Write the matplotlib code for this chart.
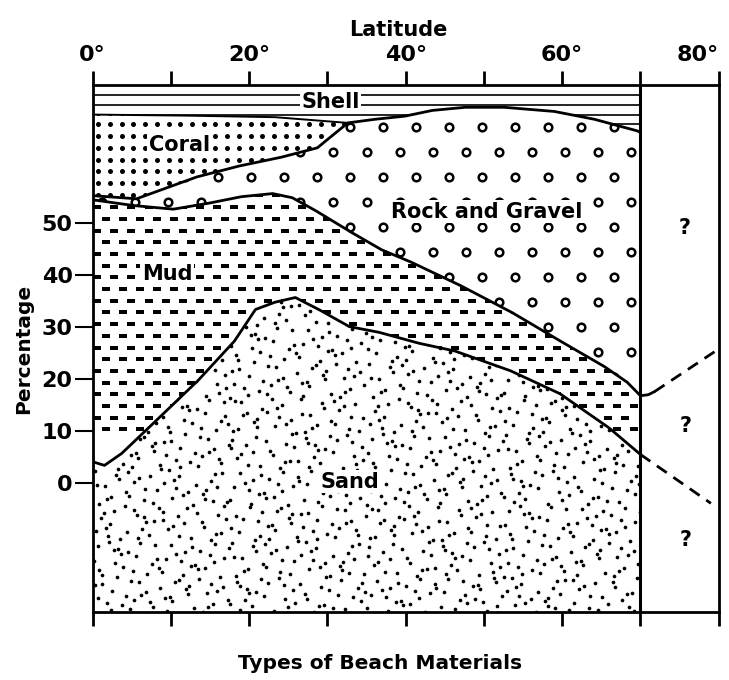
import numpy as np
import matplotlib
matplotlib.use("Agg")
import matplotlib.pyplot as plt
from matplotlib.patches import Polygon

plt.rcParams['font.family'] = ['DejaVu Sans']
plt.rcParams['font.weight'] = 'bold'

# ---------------- data (latitude in degrees, percentage) ----------------
lat_major = [0, 20, 40, 60, 80]
lat_major_labels = ['0°', '20°', '40°', '60°', '80°']
lat_minor = [10, 30, 50, 70]
pct_ticks = [0, 10, 20, 30, 40, 50]
pct_range = [-25.0, 76.4]
lat_range = [0, 80]
lat_known = 70

# upper boundary of Sand
sand_lat = [0, 1.5, 3.7, 8.3, 13.5, 18.1, 20.8, 23.3, 25.9, 29.0, 32.8, 36.6,
            41.7, 46.3, 53.4, 59.7, 66.0, 70.0]
sand_pct = [4.0, 3.3, 5.6, 12.2, 19.7, 27.2, 33.3, 34.7, 35.6, 33.2, 30.0, 28.9,
            26.8, 25.3, 21.5, 17.1, 10.5, 5.4]
sand_ext_lat = [70.0, 79.0]
sand_ext_pct = [5.4, -4.0]

# upper boundary of Mud
mud_lat = [0, 5.2, 10.3, 15.0, 19.0, 23.0, 25.5, 28.5, 33.1, 36.9, 40.7, 47.0,
           53.6, 59.9, 65.4, 68.3, 70.0]
mud_pct = [54.4, 53.3, 52.6, 53.8, 55.0, 55.6, 54.8, 52.3, 48.1, 44.8, 42.4, 37.9,
           32.7, 27.1, 22.3, 19.3, 16.7]
mud_bend_lat = [70.0, 71.0, 71.8]
mud_bend_pct = [16.7, 16.9, 17.5]
mud_ext_lat = [71.8, 80.0]
mud_ext_pct = [17.5, 25.7]

# upper boundary of Rock and Gravel (coral base, then shell base)
rock_lat = [0, 5.6, 13.3, 18.7, 24.1, 28.7, 32.6, 36.1, 39.9, 43.4, 47.6, 52.6,
            59.0, 64.1, 69.5, 70.0]
rock_pct = [55.2, 54.6, 58.8, 60.9, 62.6, 64.4, 69.2, 69.9, 70.5, 71.6, 72.2, 72.2,
            71.4, 69.9, 67.7, 67.4]
coral_end = 6  # index where coral pinches out

# upper boundary of Coral (shell base)
coral_top_lat = [0, 12.0, 23.3, 32.6]
coral_top_pct = [70.8, 70.6, 70.3, 69.2]

region_labels = ['Shell', 'Coral', 'Rock and Gravel', 'Mud', 'Sand']
region_lat = [30.4, 11.1, 50.4, 9.5, 32.8]
region_pct = [73.2, 65.0, 52.1, 40.1, 0.2]

unknown_lat = [75.6, 75.8, 75.8]
unknown_pct = [49.0, 10.9, -11.0]

# ---------------- figure ----------------
fig = plt.figure(figsize=(7.29, 6.80), dpi=100)
ax = fig.add_axes([0.1272, 0.0993, 0.8587, 0.7750])
ax.set_xlim(*lat_range)
ax.set_ylim(*pct_range)
ymin, ymax = pct_range

pts = lambda xs, ys: list(zip(xs, ys))
sand_poly = pts(sand_lat, sand_pct) + [(lat_known, ymin), (0, ymin)]
mud_poly = pts(sand_lat, sand_pct) + pts(mud_lat, mud_pct)[::-1]
rock_poly = pts(mud_lat, mud_pct) + pts(rock_lat, rock_pct)[::-1]
coral_poly = pts(rock_lat[:coral_end + 1], rock_pct[:coral_end + 1]) + pts(coral_top_lat, coral_top_pct)[::-1]
shell_poly = (pts(coral_top_lat, coral_top_pct) + pts(rock_lat[coral_end + 1:], rock_pct[coral_end + 1:])
              + [(lat_known, ymax), (0, ymax)])

patches = {}
for name, poly in [('sand', sand_poly), ('mud', mud_poly), ('rock', rock_poly),
                   ('coral', coral_poly), ('shell', shell_poly)]:
    p = Polygon(poly, closed=True, facecolor='white', edgecolor='none', zorder=1)
    ax.add_patch(p)
    patches[name] = p

# pixel scale of the data units (for texture spacing only)
px_x = 7.8125   # px per degree
px_y = 5.197    # px per percent

# Shell: horizontal lines
shell_y = np.arange(ymax - 9.7 / px_y, 60, -9.7 / px_y)
hl = ax.hlines(shell_y, 0, lat_known, colors='black', linewidth=1.2, zorder=2)
hl.set_clip_path(patches['shell'])

# Coral: bold dots on a square grid
cx, cy = np.meshgrid(np.arange(0.7, 34, 11.7 / px_x), np.arange(ymax - 3.0, 50, -11.7 / px_y))
sc = ax.scatter(cx.ravel(), cy.ravel(), s=13, c='black', linewidths=0, zorder=2)
sc.set_clip_path(patches['coral'])

# Rock and Gravel: rings on a staggered grid
rx, ry = [], []
for i, yv in enumerate(np.arange(ymax - 3.2, 12, -25 / px_y)):
    xs = np.arange(1.2 + (i % 2) * 16.5 / px_x, lat_known, 33 / px_x)
    rx.extend(xs)
    ry.extend([yv] * len(xs))
sc = ax.scatter(rx, ry, s=30, facecolors='white', edgecolors='black', linewidths=1.8, zorder=2)
sc.set_clip_path(patches['rock'])

# Mud: short dashes on a staggered grid
mx, my = [], []
for i, yv in enumerate(np.arange(57.5, 8, -11.7 / px_y)):
    xs = np.arange(0.6 + (i % 2) * 8.5 / px_x, lat_known, 17 / px_x)
    mx.extend(xs)
    my.extend([yv] * len(xs))
sc = ax.scatter(mx, my, s=30, marker='_', c='black', linewidths=1.5, zorder=2)
sc.set_clip_path(patches['mud'])


# Sand: stipple (Halton low-discrepancy sequence, bases 2 and 3)
def halton(i, b):
    f, r = 1.0, 0.0
    while i > 0:
        f /= b
        r += f * (i % b)
        i //= b
    return r


n_dots = 1350
sx = np.array([halton(i, 2) for i in range(1, n_dots)]) * lat_known
sy = ymin + np.array([halton(i, 3) for i in range(1, n_dots)]) * (37 - ymin)
sc = ax.scatter(sx, sy, s=7, c='black', linewidths=0, zorder=2)
sc.set_clip_path(patches['sand'])

# boundary lines
lw = 2.0
ax.plot(sand_lat, sand_pct, color='black', lw=lw, zorder=4, solid_capstyle='round')
ax.plot(mud_lat, mud_pct, color='black', lw=lw, zorder=4, solid_capstyle='round')
ax.plot(mud_bend_lat, mud_bend_pct, color='black', lw=lw, zorder=4, solid_capstyle='round')
ax.plot(rock_lat, rock_pct, color='black', lw=lw, zorder=4, solid_capstyle='round')
ax.plot(coral_top_lat, coral_top_pct, color='black', lw=1.4, zorder=4)
ax.plot(sand_ext_lat, sand_ext_pct, color='black', lw=lw, ls=(0, (4.3, 2.9)), zorder=4)
ax.plot(mud_ext_lat, mud_ext_pct, color='black', lw=lw, ls=(0, (4.3, 2.9)), zorder=4)
ax.axvline(lat_known, color='black', lw=2.2, zorder=5)

# labels
for t, x, y in zip(region_labels, region_lat, region_pct):
    ax.text(x, y, t, ha='center', va='center', fontsize=15, fontweight='bold', zorder=6,
            bbox=dict(boxstyle='square,pad=0.08', facecolor='white', edgecolor='none'))
for x, y in zip(unknown_lat, unknown_pct):
    ax.text(x, y, '?', ha='center', va='center', fontsize=15, fontweight='bold', zorder=6)

# axes styling
for s in ax.spines.values():
    s.set_linewidth(2.0)
    s.set_zorder(7)
ax.set_xticks(lat_major)
ax.set_xticklabels(lat_major_labels)
ax.set_xticks(lat_minor, minor=True)
ax.tick_params(axis='x', which='both', top=True, bottom=True, labeltop=True, labelbottom=False,
               direction='out', length=10, width=2, pad=5, labelsize=16)
ax.xaxis.get_major_ticks()[-1].label2.set_horizontalalignment('right')
ax.set_yticks(pct_ticks)
ax.tick_params(axis='y', left=True, right=False, direction='out', length=13, width=1.5,
               pad=1.5, labelsize=16)

fig.text(0.546, 0.9565, 'Latitude', ha='center', va='center', fontsize=15, fontweight='bold')
fig.text(0.0329, 0.4868, 'Percentage', rotation=90, ha='center', va='center',
         fontsize=14.5, fontweight='bold')
fig.text(0.522, 0.0241, 'Types of Beach Materials', ha='center', va='center',
         fontsize=14.5, fontweight='bold')

fig.savefig('out.png', dpi=100)
